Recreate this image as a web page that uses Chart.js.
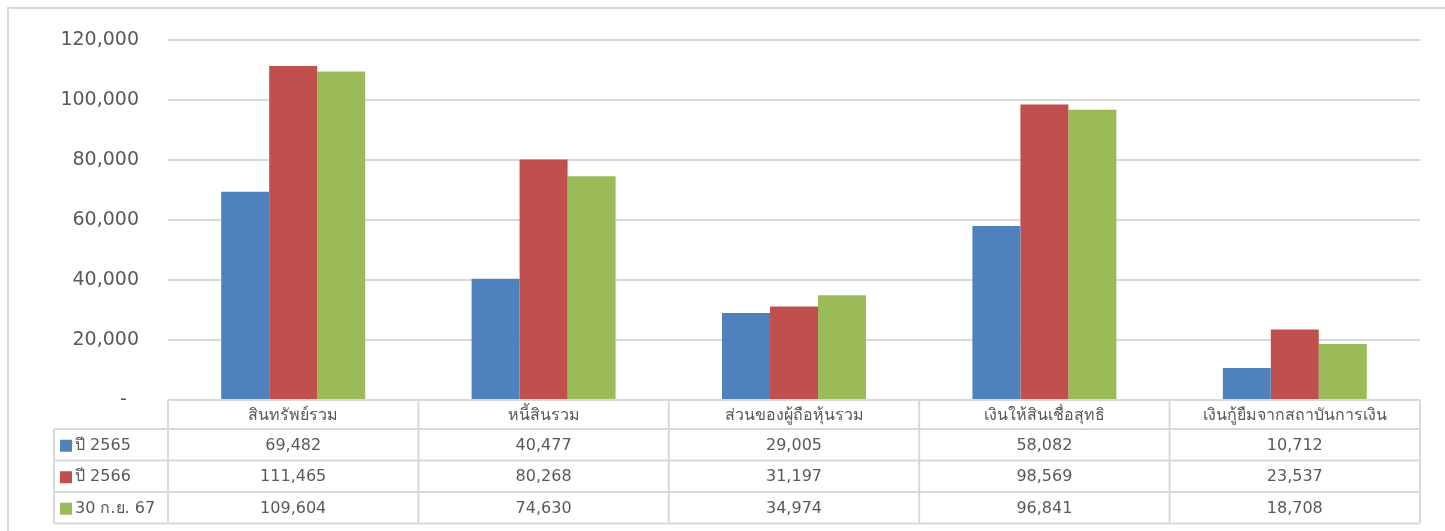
<!DOCTYPE html>
<html>
<head>
<meta charset="utf-8">
<script src="https://cdn.jsdelivr.net/npm/chart.js@4/dist/chart.umd.min.js"></script>
<style>
    body { margin: 0; background: #ffffff; }
    #wrap { position: relative; width: 1445px; height: 531px; }
</style>
</head>
<body>
<div id="wrap"><canvas id="myChart"></canvas></div>
<script>
// Datos del grafico
const categorias = ["สินทรัพย์รวม", "หนี้สินรวม", "ส่วนของผู้ถือหุ้นรวม", "เงินให้สินเชื่อสุทธิ", "เงินกู้ยืมจากสถาบันการเงิน"];
const etiquetasSeries = ["ปี 2565", "ปี 2566", "30 ก.ย. 67"];
const valores2565 = [69482, 40477, 29005, 58082, 10712];
const valores2566 = [111465, 80268, 31197, 98569, 23537];
const valoresSep67 = [109604, 74630, 34974, 96841, 18708];
const ejeYMin = 0;
const ejeYMax = 120000;
const ejeYPaso = 20000;

const colores = ["#4F81BD", "#C0504D", "#9BBB59"];
const colorTexto = "#595959";
const colorLinea = "#d9d9d9";
const fuente = "'DejaVu Sans', Tahoma, 'Noto Sans', sans-serif";

const formato = (v) => v.toLocaleString("en-US");

// Plugin que dibuja el marco y la tabla de datos bajo el grafico
const tablaDatos = {
    id: "tablaDatos",
    beforeDraw(chart) {
        const ctx = chart.ctx;
        ctx.save();
        ctx.strokeStyle = colorLinea;
        ctx.lineWidth = 2;
        ctx.strokeRect(8, 8, 1445, 540);
        ctx.restore();
    },
    afterDraw(chart) {
        const ctx = chart.ctx;
        const area = chart.chartArea;
        const x = chart.scales.x;
        const series = chart.data.datasets;
        const ancho = (area.right - area.left) / categorias.length;
        const top = chart.scales.y.getPixelForValue(0);
        const altoCabecera = 29;
        const altoFila = 31.5;
        const izq = 54;
        const bottom = top + altoCabecera + altoFila * series.length;

        ctx.save();
        ctx.strokeStyle = colorLinea;
        ctx.lineWidth = 2;
        ctx.beginPath();
        // lineas horizontales
        ctx.moveTo(area.left, top);
        ctx.lineTo(area.right, top);
        for (let i = 0; i <= series.length; i++) {
            const y = top + altoCabecera + altoFila * i;
            ctx.moveTo(izq, y);
            ctx.lineTo(area.right, y);
        }
        // lineas verticales
        ctx.moveTo(izq, top + altoCabecera);
        ctx.lineTo(izq, bottom);
        for (let i = 0; i <= categorias.length; i++) {
            const xx = area.left + ancho * i;
            ctx.moveTo(xx, top);
            ctx.lineTo(xx, bottom);
        }
        ctx.stroke();

        ctx.fillStyle = colorTexto;
        ctx.textBaseline = "middle";
        ctx.textAlign = "center";
        ctx.font = "16px " + fuente;
        categorias.forEach((cat, i) => {
            ctx.fillText(cat, x.getPixelForValue(i), top + altoCabecera / 2 + 1);
        });

        series.forEach((ds, s) => {
            const yc = top + altoCabecera + altoFila * s + altoFila / 2 + 1;
            ctx.textAlign = "center";
            ctx.fillStyle = colorTexto;
            ds.data.forEach((v, i) => {
                ctx.fillText(formato(v), x.getPixelForValue(i), yc);
            });
            // leyenda
            ctx.fillStyle = ds.backgroundColor;
            ctx.fillRect(60, yc - 6, 12, 12);
            ctx.fillStyle = colorTexto;
            ctx.textAlign = "left";
            ctx.fillText(ds.label, 75, yc);
        });
        ctx.restore();
    },
};

const ctx = document.getElementById("myChart");
new Chart(ctx, {
    type: "bar",
    data: {
        labels: categorias,
        datasets: [
            { label: etiquetasSeries[0], data: valores2565, backgroundColor: colores[0] },
            { label: etiquetasSeries[1], data: valores2566, backgroundColor: colores[1] },
            { label: etiquetasSeries[2], data: valoresSep67, backgroundColor: colores[2] },
        ],
    },
    options: {
        responsive: true,
        maintainAspectRatio: false,
        animation: false,
        layout: {
            padding: { left: 0, top: 31, right: 25, bottom: 131 },
        },
        datasets: {
            bar: { categoryPercentage: 0.575, barPercentage: 1 },
        },
        scales: {
            x: { display: false },
            y: {
                min: ejeYMin,
                max: ejeYMax,
                afterFit: (scale) => { scale.width = 168; },
                border: { display: false },
                grid: { color: colorLinea, lineWidth: 2, drawTicks: false },
                ticks: {
                    stepSize: ejeYPaso,
                    padding: 29,
                    color: colorTexto,
                    font: { family: fuente, size: 19 },
                    callback: (v) => (v === 0 ? "-  " : formato(v)),
                },
            },
        },
        plugins: {
            legend: { display: false },
            tooltip: { enabled: false },
        },
    },
    plugins: [tablaDatos],
});
</script>
</body>
</html>
